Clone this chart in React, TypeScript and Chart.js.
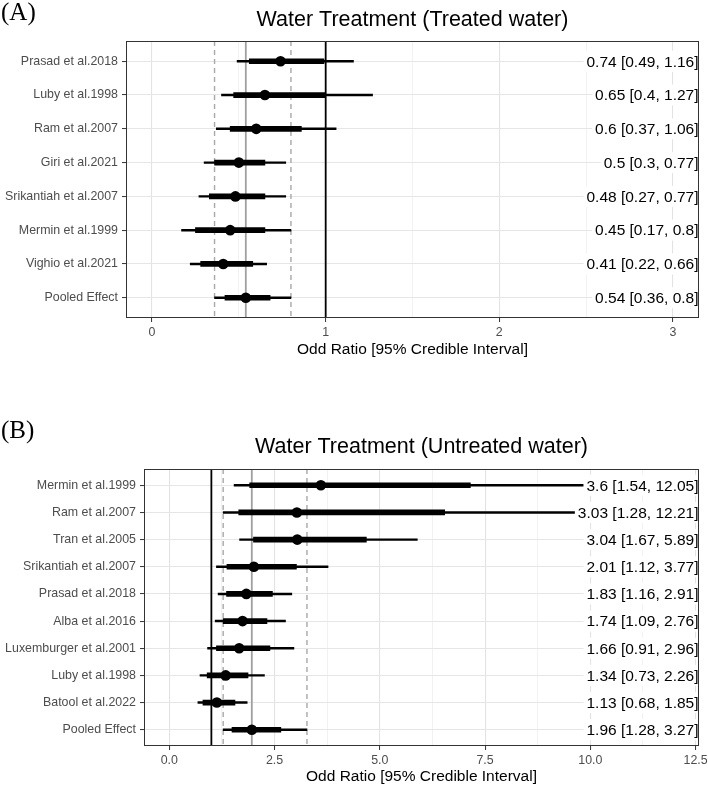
import React, { useEffect, useRef } from 'react';
import { Chart, registerables } from 'chart.js';

Chart.register(...registerables);

// ---------- Panel A data ----------
const studiesA = ['Prasad et al.2018', 'Luby et al.1998', 'Ram et al.2007', 'Giri et al.2021', 'Srikantiah et al.2007', 'Mermin et al.1999', 'Vighio et al.2021', 'Pooled Effect'];
const medianA = [0.74, 0.65, 0.6, 0.5, 0.48, 0.45, 0.41, 0.54];
const lower95A = [0.49, 0.4, 0.37, 0.3, 0.27, 0.17, 0.22, 0.36];
const upper95A = [1.16, 1.27, 1.06, 0.77, 0.77, 0.8, 0.66, 0.8];
const lowerInnerA = [0.56, 0.47, 0.45, 0.36, 0.33, 0.25, 0.28, 0.42];
const upperInnerA = [0.99, 1.0, 0.86, 0.65, 0.65, 0.65, 0.58, 0.68];
const xTicksA = [0, 0.5, 1, 1.5, 2, 2.5, 3];
const xTickLabelsA = ['0', '', '1', '', '2', '', '3'];
const xRangeA = [-0.15, 3.15];

// ---------- Panel B data ----------
const studiesB = ['Mermin et al.1999', 'Ram et al.2007', 'Tran et al.2005', 'Srikantiah et al.2007', 'Prasad et al.2018', 'Alba et al.2016', 'Luxemburger et al.2001', 'Luby et al.1998', 'Batool et al.2022', 'Pooled Effect'];
const medianB = [3.6, 3.03, 3.04, 2.01, 1.83, 1.74, 1.66, 1.34, 1.13, 1.96];
const lower95B = [1.54, 1.28, 1.67, 1.12, 1.16, 1.09, 0.91, 0.73, 0.68, 1.28];
const upper95B = [12.05, 12.21, 5.89, 3.77, 2.91, 2.76, 2.96, 2.26, 1.85, 3.27];
const lowerInnerB = [1.91, 1.65, 2.0, 1.37, 1.36, 1.28, 1.12, 0.9, 0.8, 1.49];
const upperInnerB = [7.15, 6.54, 4.68, 3.02, 2.45, 2.32, 2.39, 1.87, 1.56, 2.65];
const xTicksB = [0, 1.25, 2.5, 3.75, 5, 6.25, 7.5, 8.75, 10, 11.25, 12.5];
const xTickLabelsB = ['0.0', '', '2.5', '', '5.0', '', '7.5', '', '10.0', '', '12.5'];
const xRangeB = [-0.6, 12.58];

const nullValue = 1;
const xAxisTitle = 'Odd Ratio [95% Credible Interval]';

const SANS = '"Liberation Sans", Arial, sans-serif';
const SERIF = '"Liberation Serif", "Times New Roman", serif';

type Panel = {
  tag: string;
  title: string;
  studies: string[];
  median: number[];
  lo: number[];
  hi: number[];
  loIn: number[];
  hiIn: number[];
  xTicks: number[];
  xTickLabels: string[];
  xRange: number[];
  padTop: number;
  padRight: number;
  yWidth: number;
  xHeight: number;
  titleY: number;
  tagY: number;
  xTitlePad: number;
};

const panelA: Panel = {
  tag: '(A)', title: 'Water Treatment (Treated water)',
  studies: studiesA, median: medianA, lo: lower95A, hi: upper95A, loIn: lowerInnerA, hiIn: upperInnerA,
  xTicks: xTicksA, xTickLabels: xTickLabelsA, xRange: xRangeA,
  padTop: 41, padRight: 9, yWidth: 126, xHeight: 75, titleY: 20, tagY: 13, xTitlePad: 33.7,
};

const panelB: Panel = {
  tag: '(B)', title: 'Water Treatment (Untreated water)',
  studies: studiesB, median: medianB, lo: lower95B, hi: upper95B, loIn: lowerInnerB, hiIn: upperInnerB,
  xTicks: xTicksB, xTickLabels: xTickLabelsB, xRange: xRangeB,
  padTop: 76, padRight: 9, yWidth: 144, xHeight: 40, titleY: 54, tagY: 38, xTitlePad: 0,
};

function makePlugin(p: Panel) {
  return {
    id: 'forest' + p.tag,
    beforeDatasetsDraw(chart: any) {
      const { ctx, chartArea: a, scales } = chart;
      const x = scales.x;
      const last = p.studies.length - 1;
      ctx.save();
      ctx.beginPath();
      ctx.rect(a.left, a.top, a.right - a.left, a.bottom - a.top);
      ctx.clip();
      const vline = (v: number, color: string, w: number, dash: number[]) => {
        const px = x.getPixelForValue(v);
        ctx.beginPath();
        ctx.setLineDash(dash);
        ctx.strokeStyle = color;
        ctx.lineWidth = w;
        ctx.moveTo(px, a.top);
        ctx.lineTo(px, a.bottom);
        ctx.stroke();
      };
      vline(p.lo[last], '#a8a8a8', 1.4, [5, 4]);
      vline(p.hi[last], '#a8a8a8', 1.4, [5, 4]);
      vline(p.median[last], '#a0a0a0', 1.8, []);
      vline(nullValue, '#000000', 1.8, []);
      ctx.restore();
    },
    afterDatasetsDraw(chart: any) {
      const { ctx, chartArea: a, scales } = chart;
      const y = scales.y;
      ctx.save();
      ctx.beginPath();
      ctx.rect(a.left, a.top, a.right - a.left, a.bottom - a.top);
      ctx.clip();
      ctx.font = `15.5px ${SANS}`;
      ctx.textAlign = 'right';
      ctx.textBaseline = 'middle';
      p.studies.forEach((_, i) => {
        const py = y.getPixelForValue(i);
        const text = `${p.median[i]} [${p.lo[i]}, ${p.hi[i]}]`;
        const w = ctx.measureText(text).width;
        const xr = a.right - 0.5;
        ctx.fillStyle = '#ffffff';
        ctx.fillRect(xr - w - 3, py - 10.5, w + 6, 21);
        ctx.fillStyle = '#000000';
        ctx.fillText(text, xr, py + 1);
      });
      ctx.restore();
    },
    afterDraw(chart: any) {
      const { ctx, chartArea: a } = chart;
      ctx.save();
      ctx.strokeStyle = '#333333';
      ctx.lineWidth = 1;
      ctx.setLineDash([]);
      ctx.strokeRect(Math.round(a.left) + 0.5, Math.round(a.top) + 0.5, Math.round(a.right - a.left) - 1, Math.round(a.bottom - a.top) - 1);
      ctx.fillStyle = '#000000';
      ctx.textBaseline = 'middle';
      ctx.textAlign = 'center';
      ctx.font = `21.5px ${SANS}`;
      ctx.fillText(p.title, (a.left + a.right) / 2, p.titleY);
      ctx.textAlign = 'left';
      ctx.font = `25px ${SERIF}`;
      ctx.fillText(p.tag, 1, p.tagY);
      ctx.restore();
    },
  };
}

function buildConfig(p: Panel): any {
  const isMajor = (v: number) => {
    const k = p.xTicks.indexOf(v);
    return k >= 0 && p.xTickLabels[k] !== '';
  };
  return {
    type: 'bar',
    data: {
      labels: p.studies,
      datasets: [
        {
          type: 'scatter',
          data: p.median.map((m, i) => ({ x: m, y: i })),
          pointRadius: 5.3,
          pointBackgroundColor: '#000000',
          pointBorderColor: '#000000',
          pointBorderWidth: 0,
          showLine: false,
          order: 0,
        },
        {
          type: 'bar',
          data: p.loIn.map((l, i) => ({ x: [l, p.hiIn[i]], y: i })),
          backgroundColor: '#000000',
          borderWidth: 0,
          barThickness: 5,
          grouped: false,
          order: 1,
        },
        {
          type: 'bar',
          data: p.lo.map((l, i) => ({ x: [l, p.hi[i]], y: i })),
          backgroundColor: '#000000',
          borderWidth: 0,
          barThickness: 1.8,
          grouped: false,
          order: 2,
        },
      ],
    },
    options: {
      indexAxis: 'y',
      responsive: false,
      maintainAspectRatio: false,
      animation: false,
      devicePixelRatio: 1,
      events: [],
      layout: { padding: { top: p.padTop, right: p.padRight, left: 0, bottom: 0 } },
      plugins: { legend: { display: false }, tooltip: { enabled: false }, title: { display: false } },
      scales: {
        x: {
          type: 'linear',
          position: 'bottom',
          min: p.xRange[0],
          max: p.xRange[1],
          beginAtZero: false,
          offset: false,
          afterBuildTicks: (s: any) => { s.ticks = p.xTicks.map((v) => ({ value: v })); },
          afterFit: (s: any) => { s.height = p.xHeight; s.paddingLeft = 0; s.paddingRight = 0; },
          ticks: {
            autoSkip: false,
            maxRotation: 0,
            minRotation: 0,
            color: '#4d4d4d',
            font: { family: SANS, size: 12.4 },
            padding: 3,
            callback: (v: number) => { const k = p.xTicks.indexOf(v); return k >= 0 ? p.xTickLabels[k] : ''; },
          },
          grid: {
            offset: false,
            drawOnChartArea: true,
            color: (c: any) => (isMajor(c.tick?.value) ? '#e3e3e3' : '#efefef'),
            lineWidth: (c: any) => (isMajor(c.tick?.value) ? 1.1 : 0.8),
            tickColor: (c: any) => (isMajor(c.tick?.value) ? '#333333' : 'rgba(0,0,0,0)'),
            tickLength: 4,
            tickWidth: 1,
          },
          border: { display: false },
          title: {
            display: true,
            text: xAxisTitle,
            color: '#000000',
            font: { family: SANS, size: 15.5, lineHeight: 1.2 },
            padding: { top: 0, bottom: p.xTitlePad },
          },
        },
        y: {
          type: 'linear',
          position: 'left',
          reverse: true,
          min: -0.6,
          max: p.studies.length - 0.4,
          offset: false,
          beginAtZero: false,
          afterBuildTicks: (s: any) => { s.ticks = p.studies.map((_, i) => ({ value: i })); },
          afterFit: (s: any) => { s.width = p.yWidth; s.paddingTop = 0; s.paddingBottom = 0; },
          ticks: {
            autoSkip: false,
            color: '#4d4d4d',
            font: { family: SANS, size: 12.4 },
            padding: 4,
            callback: (v: number) => p.studies[v] ?? '',
          },
          grid: {
            offset: false,
            color: '#e6e6e6',
            lineWidth: 1.1,
            tickColor: '#333333',
            tickLength: 4,
            tickWidth: 1,
          },
          border: { display: false },
        },
      },
    },
    plugins: [makePlugin(p)],
  };
}

export default function App() {
  const refA = useRef<HTMLCanvasElement | null>(null);
  const refB = useRef<HTMLCanvasElement | null>(null);

  useEffect(() => {
    const charts: Chart[] = [];
    if (refA.current) charts.push(new Chart(refA.current, buildConfig(panelA)));
    if (refB.current) charts.push(new Chart(refB.current, buildConfig(panelB)));
    return () => charts.forEach((c) => c.destroy());
  }, []);

  return (
    <div style={{ position: 'absolute', left: 0, top: 0, width: 708, height: 786, background: '#ffffff' }}>
      <canvas ref={refA} width={708} height={393} style={{ display: 'block', width: 708, height: 393 }} />
      <canvas ref={refB} width={708} height={393} style={{ display: 'block', width: 708, height: 393 }} />
    </div>
  );
}
